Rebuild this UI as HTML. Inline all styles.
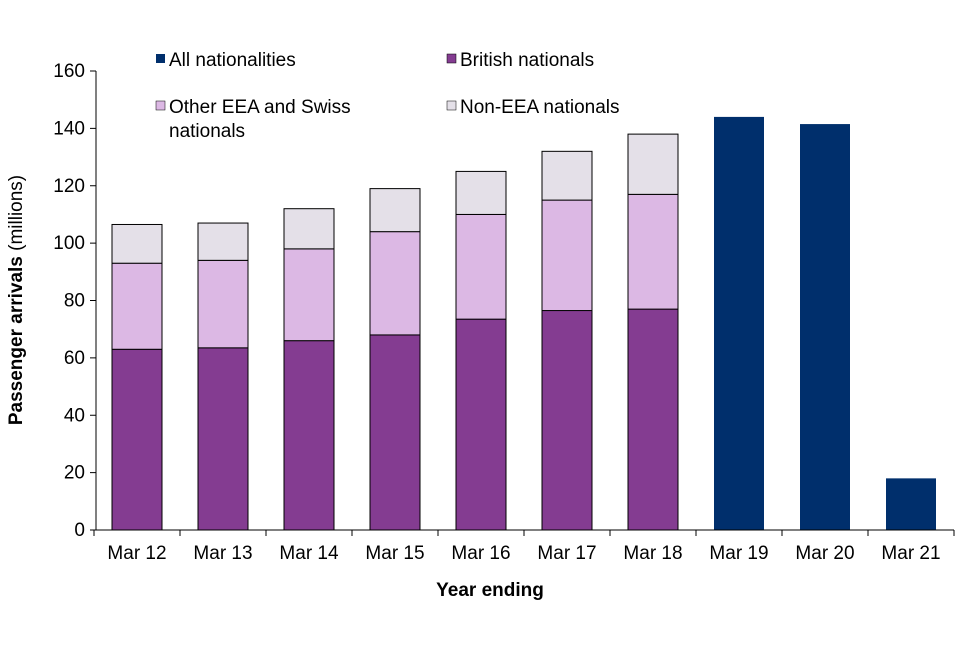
<!DOCTYPE html>
<html><head><meta charset="utf-8"><style>
body{margin:0;background:#fff;font-family:"Liberation Sans",Arial,sans-serif}
svg text{font-family:"Liberation Sans",Arial,sans-serif}
</style></head><body>
<svg id="chart" width="960" height="640">
<g id="grid"></g><g id="bars"></g><g id="axes"></g>
<g font-size="19" fill="#000">
<rect x="156" y="54" width="9" height="9" fill="#002f6c"/>
<text x="169" y="66">All nationalities</text>
<rect x="447" y="54" width="9" height="9" fill="#843c91" stroke="#000" stroke-width="0.5"/>
<text x="460" y="66">British nationals</text>
<rect x="156" y="101" width="9" height="9" fill="#dcb8e4" stroke="#000" stroke-width="0.5"/>
<text x="169" y="113">Other EEA and Swiss</text>
<text x="169" y="137">nationals</text>
<rect x="447" y="101" width="9" height="9" fill="#e4e0e8" stroke="#000" stroke-width="0.5"/>
<text x="460" y="113">Non-EEA nationals</text>
</g>
<text x="490" y="596" text-anchor="middle" font-size="19" font-weight="bold">Year ending</text>
<text transform="translate(22,300) rotate(-90)" text-anchor="middle" font-size="19"><tspan font-weight="bold">Passenger arrivals</tspan> (millions)</text>
</svg>
<script>
const categories=["Mar 12","Mar 13","Mar 14","Mar 15","Mar 16","Mar 17","Mar 18","Mar 19","Mar 20","Mar 21"];
const british=[63,63.5,66,68,73.5,76.5,77,null,null,null];
const otherEEA=[30,30.5,32,36,36.5,38.5,40,null,null,null];
const nonEEA=[13.5,13,14,15,15,17,21,null,null,null];
const allNationalities=[null,null,null,null,null,null,null,144,141.5,18];
const yTicks=[0,20,40,60,80,100,120,140,160];
const NS="http://www.w3.org/2000/svg";
const x0=94,x1=954,yb=530,yt=71,ymax=160;
const band=(x1-x0)/categories.length,bw=50;
const y=v=>yb-(v/ymax)*(yb-yt);
const xc=i=>x0+band*(i+0.5);
function mk(tag,attrs,parent){const e=document.createElementNS(NS,tag);for(const k in attrs)e.setAttribute(k,attrs[k]);parent.appendChild(e);return e;}
const axes=document.getElementById('axes'),bars=document.getElementById('bars');
mk('line',{x1:96,y1:yt,x2:96,y2:yb,stroke:'#000','stroke-width':1},axes);
mk('line',{x1:96,y1:yb,x2:x1,y2:yb,stroke:'#000','stroke-width':1},axes);
yTicks.forEach(t=>{
 mk('line',{x1:90,y1:y(t),x2:96,y2:y(t),stroke:'#000'},axes);
 const tx=mk('text',{x:85,y:y(t)+6,'text-anchor':'end','font-size':19},axes);
 tx.textContent=t;
 
 
});
for(let i=0;i<=categories.length;i++) mk('line',{x1:x0+band*i,y1:yb,x2:x0+band*i,y2:yb+6,stroke:'#000'},axes);
categories.forEach((c,i)=>{
 const tx=mk('text',{x:xc(i),y:yb+29,'text-anchor':'middle','font-size':19},axes);
 tx.textContent=c;
 
 
 const series=[[british,'#843c91','british'],[otherEEA,'#dcb8e4','other-eea'],[nonEEA,'#e4e0e8','non-eea']];
 let base=0;
 series.forEach(([arr,col,nm])=>{
  if(arr[i]==null)return;
  const r=mk('rect',{x:xc(i)-bw/2,y:y(base+arr[i]),width:bw,height:y(base)-y(base+arr[i]),fill:col,stroke:'#000','stroke-width':1},bars);
  
  
  base+=arr[i];
 });
 if(allNationalities[i]!=null){
  const r=mk('rect',{x:xc(i)-bw/2,y:y(allNationalities[i]),width:bw,height:yb-y(allNationalities[i]),fill:'#002f6c'},bars);
  
  
 }
});
</script>
</body></html>
